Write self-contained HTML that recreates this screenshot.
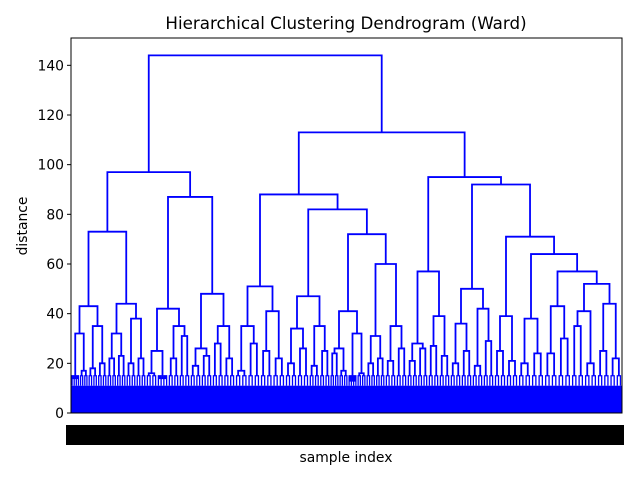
<!DOCTYPE html>
<html><head><meta charset="utf-8"><style>
html,body{margin:0;padding:0;background:#fff;}
svg text{font-family:"DejaVu Sans","Liberation Sans",sans-serif;fill:#000;}
</style></head><body>
<svg id="chart" width="640" height="480" viewBox="0 0 640 480" xmlns="http://www.w3.org/2000/svg">
<rect x="0" y="0" width="640" height="480" fill="#fff"/>
<text x="346" y="29" font-size="16.7" text-anchor="middle">Hierarchical Clustering Dendrogram (Ward)</text>
<g id="links"></g>
<g id="yaxis"></g>
<rect x="66" y="425" width="558" height="20" fill="#000"/>
<rect x="71" y="38" width="551" height="375" fill="none" stroke="#000" stroke-width="1"/>
<text x="346" y="462" font-size="13.9" text-anchor="middle">sample index</text>
<text x="27" y="226" font-size="13.9" text-anchor="middle" transform="rotate(-90 27 226)">distance</text>
</svg>
<script>
// Tree: internal = [height, left, right]; leaf cluster = [samples, height, subHeightA, subHeightB]
const tree = [144,
 [97,
   [73, [43,[17,32,14,17],[19,35,18,20]], [44,[19,32,22,23],[20,38,20,22]]],
   [87, [42,[22,25,16,14],[22,35,22,31]], [48,[22,26,19,23],[23,35,28,22]]]],
 [113,
   [88, [51,[25,35,17,28],[25,41,25,22]],
        [82,[47,[24,34,20,26],[21,35,19,25]],
            [72,[41,[18,26,24,17],[18,32,13,16]],[60,[19,31,20,22],[22,35,21,26]]]]],
   [95, [57,[21,28,21,26],[22,39,27,23]],
        [92,[50,[22,36,20,25],[22,42,19,29]],
            [71,[24,39,25,21],[64,[26,38,20,24],[57,[27,43,24,30],[52,[26,41,35,20],[25,44,25,22]]]]]]]]];
const yTicks = [0,20,40,60,80,100,120,140];
const baseHeight = 11;
const spikeHeight = 15;
const yMax = 151;

const X0=71, X1=622, Y0=413, Y1=38;
const yS = v => Y0 - v*(Y0-Y1)/yMax;
function isLeaf(n){return n.length===4;}
function count(n){return isLeaf(n)?n[0]:count(n[1])+count(n[2]);}
const total = count(tree);
const xS = s => X0 + s*(X1-X0)/total;
const NS="http://www.w3.org/2000/svg";
const g=document.getElementById('links');
function U(xa,ya,xb,yb,h,name,sw){
  const p=document.createElementNS(NS,'path');
  p.setAttribute('d',`M${xS(xa)},${yS(ya)}V${yS(h)}H${xS(xb)}V${yS(yb)}`);
  p.setAttribute('fill','none');p.setAttribute('stroke','#0000ff');p.setAttribute('stroke-width',sw||'1.8');
  
  
  g.appendChild(p);
}
let cursor=0;
function sub(x0,w,h){
  // small fixed sub-structure under a sub-cluster
  U(x0+w/4,spikeHeight,x0+3*w/4,spikeHeight,h,'cluster-link');
  U(x0+w/8,baseHeight,x0+3*w/8,baseHeight,spikeHeight,'leaf-link','1.3');
  U(x0+5*w/8,baseHeight,x0+7*w/8,baseHeight,spikeHeight,'leaf-link','1.3');
}
function draw(n){
  if(isLeaf(n)){
    const x0=cursor,w=n[0];cursor+=w;
    const a=x0+w/4,b=x0+3*w/4;
    sub(x0,w/2,n[2]);
    sub(x0+w/2,w/2,n[3]);
    U(a,n[2],b,n[3],n[1],'cluster-link');
    return {x:(a+b)/2,h:n[1]};
  }
  const l=draw(n[1]),r=draw(n[2]);
  U(l.x,l.h,r.x,r.h,n[0],'merge-link');
  return {x:(l.x+r.x)/2,h:n[0]};
}
draw(tree);
const base=document.createElementNS(NS,'rect');
base.setAttribute('x',X0);base.setAttribute('y',yS(baseHeight));
base.setAttribute('width',X1-X0);base.setAttribute('height',Y0-yS(baseHeight));
base.setAttribute('fill','#0000ff');


g.appendChild(base);
const ya=document.getElementById('yaxis');
yTicks.forEach(t=>{
  const l=document.createElementNS(NS,'line');
  l.setAttribute('x1',X0-4);l.setAttribute('x2',X0);l.setAttribute('y1',yS(t));l.setAttribute('y2',yS(t));
  l.setAttribute('stroke','#000');
  
  
  ya.appendChild(l);
  const tx=document.createElementNS(NS,'text');
  tx.setAttribute('x',X0-7);tx.setAttribute('y',yS(t)+5);tx.setAttribute('font-size','13.9');
  tx.setAttribute('text-anchor','end');tx.textContent=t;
  
  
  ya.appendChild(tx);
});
</script>
</body></html>
